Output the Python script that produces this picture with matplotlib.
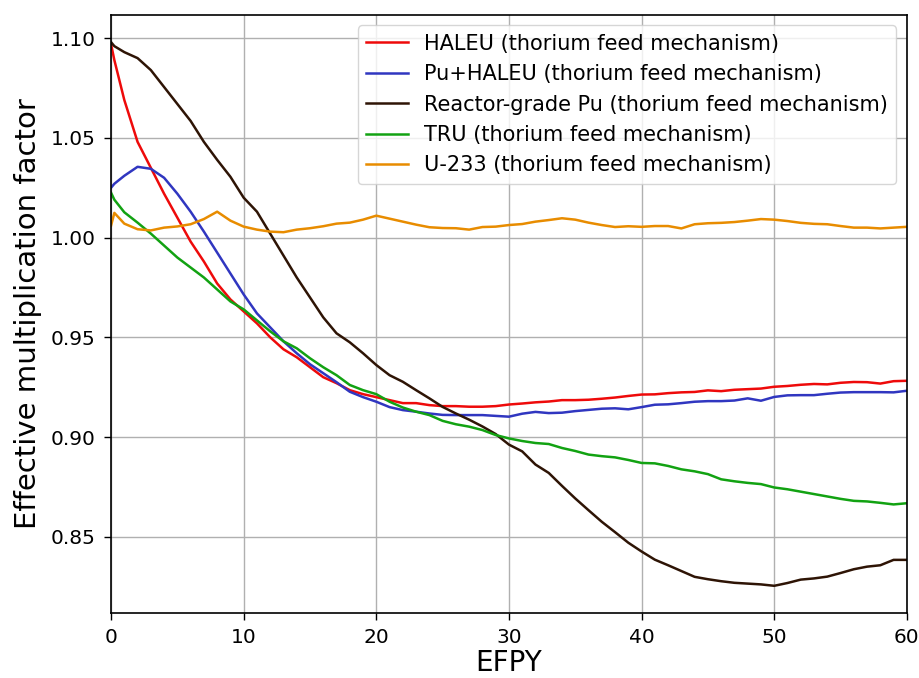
import matplotlib
matplotlib.use('Agg')
import matplotlib.pyplot as plt

# burnup time in effective full-power years
efpy = [0, 0.25] + list(range(1, 61))

haleu = [1.097, 1.089, 1.069, 1.048, 1.035, 1.022, 1.010, 0.998, 0.988, 0.977,
         0.969, 0.963, 0.957, 0.950, 0.944, 0.940, 0.935, 0.930, 0.927, 0.9235,
         0.9215, 0.920, 0.9185, 0.917, 0.917, 0.916, 0.9155, 0.9155, 0.9152, 0.9152,
         0.9155, 0.9163, 0.9168, 0.9174, 0.9178, 0.9185, 0.9185, 0.9187, 0.9192, 0.9198,
         0.9206, 0.9213, 0.9214, 0.922, 0.9224, 0.9226, 0.9234, 0.923, 0.9237, 0.924,
         0.9243, 0.9252, 0.9256, 0.9262, 0.9266, 0.9264, 0.9272, 0.9276, 0.9275, 0.9268,
         0.928, 0.9282]

pu_haleu = [1.025, 1.027, 1.031, 1.0355, 1.0345, 1.030, 1.022, 1.013, 1.003, 0.9925,
            0.982, 0.9715, 0.962, 0.955, 0.948, 0.942, 0.9365, 0.932, 0.9275, 0.9227,
            0.920, 0.9177, 0.915, 0.9135, 0.9127, 0.9118, 0.9111, 0.911, 0.911, 0.911,
            0.9106, 0.9102, 0.9117, 0.9126, 0.912, 0.9122, 0.913, 0.9136, 0.9142, 0.9144,
            0.9139, 0.915, 0.9162, 0.9164, 0.917, 0.9177, 0.918, 0.918, 0.9183, 0.9194,
            0.9182, 0.9201, 0.9209, 0.921, 0.921, 0.9217, 0.9223, 0.9225, 0.9225, 0.9225,
            0.9224, 0.9232]

rg_pu = [1.098, 1.096, 1.093, 1.090, 1.084, 1.0755, 1.067, 1.0585, 1.048, 1.039,
         1.0305, 1.020, 1.013, 1.002, 0.991, 0.980, 0.970, 0.960, 0.952, 0.9475,
         0.942, 0.9361, 0.931, 0.9277, 0.9235, 0.9194, 0.9151, 0.9118, 0.9087, 0.9053,
         0.9015, 0.8962, 0.8928, 0.8862, 0.882, 0.8755, 0.8692, 0.8633, 0.8575, 0.8523,
         0.847, 0.8426, 0.8385, 0.8357, 0.8328, 0.8299, 0.8287, 0.8277, 0.8269, 0.8265,
         0.8261, 0.8254, 0.8268, 0.8285, 0.8291, 0.830, 0.8318, 0.8337, 0.835, 0.8357,
         0.8384, 0.8384]

tru = [1.0225, 1.019, 1.0127, 1.0075, 1.002, 0.996, 0.990, 0.985, 0.980, 0.974,
       0.968, 0.964, 0.9585, 0.953, 0.948, 0.9445, 0.9395, 0.935, 0.931, 0.9261,
       0.9235, 0.9215, 0.9177, 0.9148, 0.9127, 0.911, 0.9081, 0.9064, 0.9052, 0.9035,
       0.901, 0.8993, 0.898, 0.897, 0.8965, 0.8945, 0.893, 0.8912, 0.8904, 0.8898,
       0.8885, 0.887, 0.8868, 0.8855, 0.8838, 0.8828, 0.8814, 0.8788, 0.8778, 0.877,
       0.8764, 0.8747, 0.8738, 0.8726, 0.8714, 0.8702, 0.869, 0.868, 0.8677, 0.867,
       0.8662, 0.8668]

u233 = [1.006, 1.0124, 1.007, 1.0042, 1.0036, 1.005, 1.0056, 1.0067, 1.0093, 1.013,
        1.0085, 1.0055, 1.004, 1.003, 1.0027, 1.004, 1.0047, 1.0057, 1.007, 1.0075,
        1.009, 1.011, 1.0095, 1.008, 1.0065, 1.0052, 1.0048, 1.0047, 1.004, 1.0053,
        1.0055, 1.0063, 1.0068, 1.008, 1.0088, 1.0097, 1.009, 1.0075, 1.0063, 1.0053,
        1.0057, 1.0054, 1.0058, 1.0058, 1.0046, 1.0067, 1.0072, 1.0074, 1.0078, 1.0085,
        1.0093, 1.009, 1.0083, 1.0074, 1.0069, 1.0067, 1.0058, 1.005, 1.005, 1.0046,
        1.005, 1.0054]

series = [
    (haleu, 'HALEU (thorium feed mechanism)', '#ee0a0a'),
    (pu_haleu, 'Pu+HALEU (thorium feed mechanism)', '#3036c0'),
    (rg_pu, 'Reactor-grade Pu (thorium feed mechanism)', '#2e1405'),
    (tru, 'TRU (thorium feed mechanism)', '#12a212'),
    (u233, 'U-233 (thorium feed mechanism)', '#e88c00'),
]

fig = plt.figure(figsize=(9.2, 6.78), dpi=100)
ax = fig.add_axes([0.1207, 0.0959, 0.865, 0.882])

for values, label, color in series:
    ax.plot(efpy, values, color=color, linewidth=1.8, label=label)

ax.set_xlim(0, 60)
ax.set_xticks([0, 10, 20, 30, 40, 50, 60])
ax.set_yticks([0.85, 0.90, 0.95, 1.00, 1.05, 1.10])
ax.set_yticklabels(['0.85', '0.90', '0.95', '1.00', '1.05', '1.10'])
ax.tick_params(labelsize=14.5, length=5, width=1, pad=6)
for spine in ax.spines.values():
    spine.set_linewidth(1.2)
ax.grid(True, color='#b0b0b0', linewidth=1.0)
ax.set_xlabel('EFPY', fontsize=20, labelpad=1)
ax.set_ylabel('Effective multiplication factor', fontsize=21, labelpad=6)
ax.legend(loc='upper right', fontsize=15, framealpha=0.8)

fig.savefig('out.png', dpi=100)
